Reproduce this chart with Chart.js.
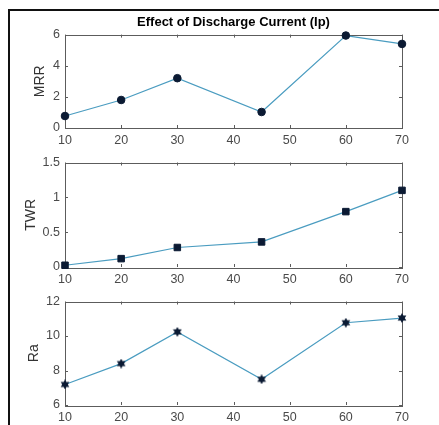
<!DOCTYPE html>
<html><head><meta charset="utf-8">
<script src="https://cdn.jsdelivr.net/npm/chart.js@4.4.0/dist/chart.umd.min.js"></script>
<style>
html,body{margin:0;padding:0;background:#fff;width:439px;height:425px;overflow:hidden;}
#frame{position:absolute;left:8px;top:9px;width:431px;height:416px;border-top:2px solid #111;border-left:2px solid #111;box-sizing:border-box;}
canvas{position:absolute;left:0;}
</style></head><body>
<div id="frame"></div>
<canvas id="c1" width="439" height="150" style="top:0px"></canvas>
<canvas id="c2" width="439" height="139" style="top:150px"></canvas>
<canvas id="c3" width="439" height="136" style="top:289px"></canvas>
<script>
const current = [10, 20, 30, 45, 60, 70];
const mrr = [0.77, 1.8, 3.2, 1.03, 5.94, 5.4];
const twr = [0.025, 0.12, 0.28, 0.36, 0.795, 1.10];
const ra = [7.19, 8.4, 10.24, 7.49, 10.77, 11.04];
const xTicks = [10, 20, 30, 40, 50, 60, 70];
const mrrTicks = [0, 2, 4, 6];
const twrTicks = [0, 0.5, 1, 1.5];
const raTicks = [6, 8, 10, 12];
const titleText = 'Effect of Discharge Current (Ip)';

const FONT = "'Liberation Sans', Arial, sans-serif";
const lineColor = '#4a9cc0';
const markColor = '#0b1a33';
const axisColor = '#5c5c5c';
const textColor = '#4a4a4a';

function hexagram(size){
  const c = document.createElement('canvas');
  c.width = size; c.height = size;
  const g = c.getContext('2d');
  const cx = size/2, cy = size/2, R = size/2, r = R*0.55;
  g.fillStyle = markColor;
  g.beginPath();
  for(let i=0;i<12;i++){
    const a = -Math.PI/2 + i*Math.PI/6;
    const rad = i%2===0 ? R : r;
    const px = cx + rad*Math.cos(a), py = cy + rad*Math.sin(a);
    if(i===0) g.moveTo(px,py); else g.lineTo(px,py);
  }
  g.closePath(); g.fill();
  return c;
}

const boxPlugin = {
  id: 'matlabBox',
  beforeDatasetsDraw(chart){
    const {ctx, chartArea:{left,right,top,bottom}, scales:{x,y}} = chart;
    ctx.save();
    ctx.strokeStyle = axisColor; ctx.lineWidth = 1;
    ctx.strokeRect(Math.round(left)+0.5, Math.round(top)+0.5, Math.round(right-left), Math.round(bottom-top));
    ctx.beginPath();
    const tl = 3;
    x.ticks.forEach(t=>{
      const px = Math.round(x.getPixelForValue(t.value))+0.5;
      ctx.moveTo(px, bottom); ctx.lineTo(px, bottom-tl);
      ctx.moveTo(px, top); ctx.lineTo(px, top+tl);
    });
    y.ticks.forEach(t=>{
      const py = Math.round(y.getPixelForValue(t.value))+0.5;
      ctx.moveTo(left, py); ctx.lineTo(left+tl, py);
      ctx.moveTo(right, py); ctx.lineTo(right-tl, py);
    });
    ctx.stroke();
    ctx.restore();
  }
};

function makeChart(id, values, yTicksArr, yLabel, yTitlePad, style, radius, padTop, xHeight, withTitle){
  const ymin = yTicksArr[0], ymax = yTicksArr[yTicksArr.length-1];
  return new Chart(document.getElementById(id), {
    type: 'line',
    data: {
      datasets: [{
        data: current.map((c,i)=>({x:c, y:values[i]})),
        borderColor: lineColor,
        borderWidth: 1.2,
        pointStyle: style,
        pointRadius: radius,
        pointBackgroundColor: markColor,
        pointBorderColor: markColor,
        pointBorderWidth: 1,
        tension: 0,
        clip: false
      }]
    },
    options: {
      responsive: false,
      animation: false,
      devicePixelRatio: 1,
      layout: { padding: { top: padTop, right: 37, left: 0, bottom: 0 } },
      plugins: {
        legend: { display: false },
        tooltip: { enabled: false },
        title: withTitle ? {
          display: true, text: titleText, fullSize: false,
          color: '#000', font: { family: FONT, size: 13, weight: 'bold' },
          padding: { top: 15, bottom: 4 }
        } : { display: false }
      },
      scales: {
        x: {
          type: 'linear', min: 10, max: 70,
          afterBuildTicks: s => { s.ticks = xTicks.map(v=>({value:v})); },
          ticks: { color: textColor, font: { family: FONT, size: 12.5 }, padding: 5, maxRotation: 0, autoSkip: false },
          grid: { display: false, drawTicks: false },
          border: { display: false },
          afterFit: s => { s.height = xHeight; }
        },
        y: {
          type: 'linear', min: ymin, max: ymax,
          afterBuildTicks: s => { s.ticks = yTicksArr.map(v=>({value:v})); },
          ticks: { color: textColor, font: { family: FONT, size: 12.5 }, padding: 5, autoSkip: false,
                   callback: v => String(v) },
          grid: { display: false, drawTicks: false },
          border: { display: false },
          title: { display: true, text: yLabel, color: '#333', font: { family: FONT, size: 14 },
                   padding: { top: yTitlePad, bottom: 0 } },
          afterFit: s => { s.width = 65; }
        }
      }
    },
    plugins: [boxPlugin]
  });
}

makeChart('c1', mrr, mrrTicks, 'MRR', 32, 'circle', 3.8, 0, 22, true);
makeChart('c2', twr, twrTicks, 'TWR', 23, 'rect', 4.6, 10, 22, false);
makeChart('c3', ra, raTicks, 'Ra', 26, hexagram(10), 4, 10, 20, false);
</script>
</body></html>
